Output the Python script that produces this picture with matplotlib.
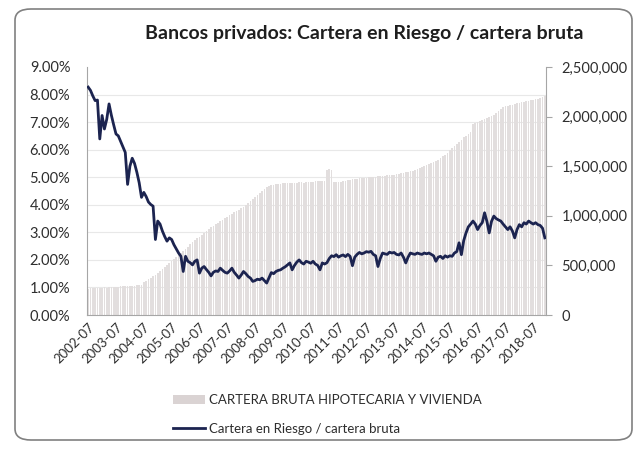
import matplotlib
matplotlib.use('Agg')
import matplotlib.pyplot as plt
import numpy as np
import pandas as pd
from matplotlib.patches import FancyBboxPatch, Patch
from matplotlib.lines import Line2D
from matplotlib.ticker import FuncFormatter, MultipleLocator

plt.rcParams['font.family'] = ['Lato', 'DejaVu Sans']

# meses 2002-07 .. 2018-12
meses = pd.period_range('2002-07', '2018-12', freq='M').strftime('%Y-%m').tolist()
etiquetas = [m if m.endswith('-07') else '' for m in meses]

# cartera bruta hipotecaria y vivienda (eje derecho)
cartera_bruta = [
    265000, 268000, 270000, 272000, 270000, 274000, 276000, 278000, 275000, 280000, 282000, 284000,
    283000, 286000, 288000, 290000, 288000, 292000, 294000, 296000, 293000, 298000, 300000, 303000,
    330000, 345000, 360000, 375000, 390000, 405000, 420000, 440000, 460000, 480000, 500000, 520000,
    545000, 565000, 585000, 605000, 625000, 645000, 665000, 690000, 715000, 740000, 760000, 775000,
    790000, 810000, 830000, 850000, 870000, 885000, 900000, 915000, 930000, 945000, 960000, 975000,
    990000, 1005000, 1020000, 1035000, 1050000, 1060000, 1075000, 1090000, 1110000, 1130000, 1150000, 1170000,
    1190000, 1210000, 1230000, 1250000, 1270000, 1290000, 1300000, 1310000, 1315000, 1320000, 1325000, 1325000,
    1330000, 1330000, 1328000, 1332000, 1335000, 1330000, 1335000, 1338000, 1340000, 1335000, 1340000, 1342000,
    1345000, 1340000, 1348000, 1350000, 1352000, 1350000, 1355000, 1460000, 1470000, 1465000, 1340000, 1345000,
    1340000, 1345000, 1350000, 1355000, 1360000, 1365000, 1370000, 1372000, 1375000, 1378000, 1380000, 1382000,
    1385000, 1388000, 1390000, 1392000, 1395000, 1398000, 1400000, 1402000, 1405000, 1408000, 1410000, 1413000,
    1416000, 1420000, 1425000, 1430000, 1435000, 1440000, 1445000, 1450000, 1455000, 1460000, 1470000, 1480000,
    1490000, 1500000, 1510000, 1520000, 1530000, 1540000, 1550000, 1565000, 1580000, 1600000, 1615000, 1630000,
    1660000, 1680000, 1700000, 1720000, 1740000, 1760000, 1790000, 1800000, 1820000, 1840000, 1930000, 1940000,
    1950000, 1960000, 1970000, 1980000, 1990000, 2000000, 2010000, 2020000, 2040000, 2060000, 2080000, 2100000,
    2105000, 2110000, 2115000, 2120000, 2130000, 2135000, 2140000, 2145000, 2150000, 2155000, 2160000, 2165000,
    2170000, 2175000, 2180000, 2190000, 2200000, 2210000,
]

# cartera en riesgo / cartera bruta (%)
riesgo = [
    8.27, 8.15, 7.95, 7.78, 7.80, 6.39, 7.24, 6.75, 7.10, 7.66, 7.25, 6.90,
    6.57, 6.50, 6.30, 6.09, 5.90, 4.74, 5.40, 5.69, 5.50, 5.18, 4.80, 4.27,
    4.45, 4.30, 4.10, 4.01, 3.95, 2.74, 3.41, 3.30, 3.05, 2.85, 2.68, 2.80,
    2.74, 2.55, 2.40, 2.25, 2.13, 1.58, 2.13, 1.95, 1.90, 1.82, 1.95, 2.00,
    1.52, 1.70, 1.76, 1.65, 1.55, 1.42, 1.55, 1.60, 1.58, 1.70, 1.62, 1.55,
    1.52, 1.60, 1.70, 1.55, 1.45, 1.34, 1.45, 1.58, 1.50, 1.40, 1.34, 1.22,
    1.25, 1.30, 1.28, 1.34, 1.25, 1.16, 1.35, 1.54, 1.50, 1.58, 1.62, 1.64,
    1.70, 1.75, 1.82, 1.89, 1.64, 1.80, 1.92, 2.00, 1.90, 1.85, 1.95, 1.92,
    1.88, 1.95, 1.85, 1.80, 1.64, 1.89, 1.85, 1.90, 2.05, 2.15, 2.12, 2.19,
    2.10, 2.15, 2.18, 2.12, 2.20, 2.13, 1.79, 2.10, 2.20, 2.27, 2.22, 2.25,
    2.30, 2.28, 2.31, 2.20, 2.15, 1.76, 2.05, 2.25, 2.22, 2.20, 2.28, 2.25,
    2.27, 2.20, 2.18, 2.25, 2.10, 1.89, 2.10, 2.25, 2.22, 2.20, 2.25, 2.22,
    2.20, 2.25, 2.22, 2.25, 2.20, 2.15, 1.95, 2.10, 2.13, 2.05, 2.15, 2.10,
    2.15, 2.13, 2.25, 2.30, 2.62, 2.19, 2.70, 2.98, 3.20, 3.30, 3.41, 3.30,
    3.10, 3.25, 3.35, 3.71, 3.40, 2.98, 3.40, 3.59, 3.50, 3.45, 3.41, 3.30,
    3.20, 3.10, 3.20, 3.05, 2.80, 3.10, 3.28, 3.20, 3.35, 3.30, 3.41, 3.35,
    3.30, 3.35, 3.28, 3.25, 3.15, 2.80,
]

txt = '#2e2e2e'
eje = '#a6a6a6'
gris_barra = '#e2dede'
azul = '#1c2450'

fig = plt.figure(figsize=(6.38, 4.49), dpi=100)
ax = fig.add_axes([0.1364, 0.2984, 0.7194, 0.5524])
x = np.arange(len(meses))

# barras en el eje derecho
ax.bar(x, cartera_bruta, width=0.72, color=gris_barra, linewidth=0)
ax.set_ylim(0, 2500000)
ax.set_xlim(-0.5, len(meses) - 0.5)
ax.yaxis.set_major_locator(MultipleLocator(500000))
ax.yaxis.set_major_formatter(FuncFormatter(lambda v, p: f'{v:,.0f}'))
ax.yaxis.set_minor_locator(MultipleLocator(2500000 / 9))
ax.grid(which='minor', axis='y', color='#e8e8e8', lw=0.8)
ax.set_axisbelow(True)
ax.set_xticks(x)
ax.set_xticklabels(etiquetas, rotation=45, ha='right', rotation_mode='anchor', fontsize=9.5, color=txt)
ax.tick_params(axis='x', length=0, pad=4)
ax.spines['top'].set_visible(False)
for s in ['left', 'right', 'bottom']:
    ax.spines[s].set_color(eje)

# linea en el eje izquierdo
ax2 = ax.twinx()
ax2.plot(x, np.array(riesgo) / 100, color=azul, lw=2.0)
ax2.yaxis.tick_left()
ax2.set_ylim(0, 0.09)
ax2.yaxis.set_major_locator(MultipleLocator(0.01))
ax2.yaxis.set_major_formatter(FuncFormatter(lambda v, p: f'{v*100:.2f}%'))
ax2.tick_params(axis='y', length=0, labelsize=10.5, labelcolor=txt, pad=12)
for s in ax2.spines.values():
    s.set_visible(False)

# twinx pasa el eje original a la izquierda, lo devolvemos a la derecha
ax.yaxis.tick_right()
ax.tick_params(axis='y', which='major', length=4, color=eje, labelsize=10.5, labelcolor=txt, pad=7)
ax.tick_params(axis='y', which='minor', length=0)

fig.text(0.571, 0.926, 'Bancos privados: Cartera en Riesgo / cartera bruta',
         ha='center', va='center', fontsize=14, fontweight='bold', color='#1e1e1e')

handles = [Patch(facecolor='#dad3d3', edgecolor='none'),
           Line2D([0], [0], color=azul, lw=2.0)]
labels = ['CARTERA BRUTA HIPOTECARIA Y VIVIENDA', 'Cartera en Riesgo / cartera bruta']
leg = fig.legend(handles, labels, loc='center', bbox_to_anchor=(0.513, 0.077), frameon=False,
                 fontsize=9.5, labelspacing=1.3, handlelength=2.4, handletextpad=0.3)
for t in leg.get_texts():
    t.set_color(txt)

fig.patches.append(FancyBboxPatch((15 / 638, 9 / 449), 617 / 638, 431 / 449,
                                  boxstyle='round,pad=0,rounding_size=0.025',
                                  transform=fig.transFigure, fill=False,
                                  ec='#808080', lw=1.2))

fig.savefig('out.png', dpi=100)
